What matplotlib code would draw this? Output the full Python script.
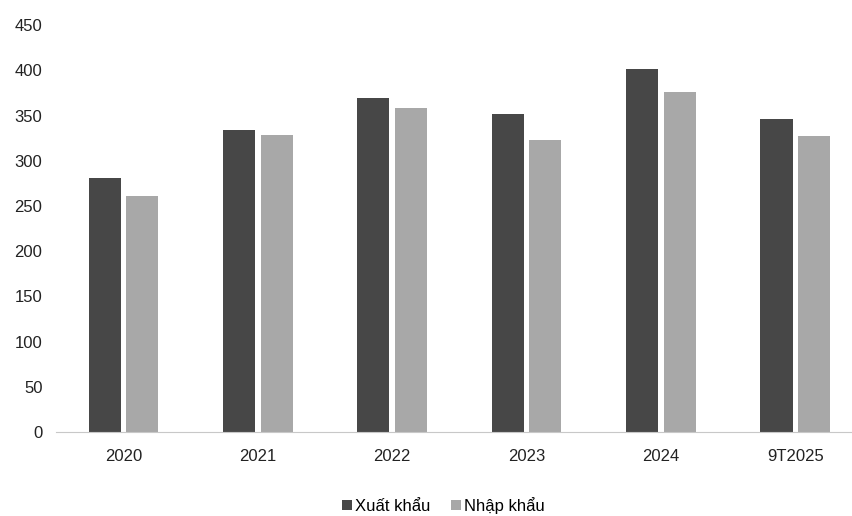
import matplotlib.pyplot as plt
import numpy as np

# data (billion USD)
years = ['2020', '2021', '2022', '2023', '2024', '9T2025']
xuat_khau = [281, 334, 370, 352, 402, 346]
nhap_khau = [261, 329, 358, 323, 376, 328]

plt.rcParams['font.family'] = ['Liberation Sans', 'DejaVu Sans']

fig = plt.figure(figsize=(8.53, 5.16), dpi=100)
ax = fig.add_axes([0.066, 0.163, 0.945, 0.788])

x = np.arange(len(years))
w = 0.24
ax.bar(x - w / 2 - 0.02, xuat_khau, w, color='#474747', label='Xuất khẩu')
ax.bar(x + w / 2 + 0.02, nhap_khau, w, color='#a8a8a8', label='Nhập khẩu')

ax.set_xlim(-0.5, 5.5)
ax.set_ylim(0, 450)
ax.set_yticks(range(0, 451, 50))
ax.set_xticks(x)
ax.set_xticklabels(years)
ax.tick_params(axis='both', length=0, labelsize=12, colors='#222222')
ax.tick_params(axis='x', pad=12)
ax.tick_params(axis='y', pad=10)

for s in ['top', 'right', 'left']:
    ax.spines[s].set_visible(False)
ax.spines['bottom'].set_color('#c8c8c8')

fig.legend(loc='lower center', bbox_to_anchor=(0.52, -0.025), ncol=2,
           frameon=False, fontsize=12, handlelength=0.6, handleheight=0.6,
           handletextpad=0.2, columnspacing=1.2)

fig.savefig('out.png')
